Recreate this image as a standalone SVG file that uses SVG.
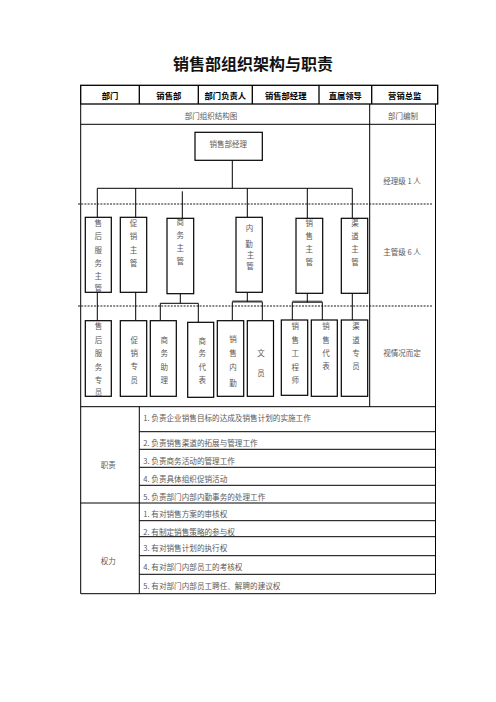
<svg xmlns="http://www.w3.org/2000/svg" width="496" height="702" viewBox="0 0 496 702">
<style>
.bg{fill:#fff}
.ln{stroke:#000;stroke-width:1;fill:none}
.hd{stroke:#000;stroke-width:1.3;fill:none}
.bx{stroke:#000;stroke-width:1.2;fill:#fff}
.dash{stroke:#000;stroke-width:0.9;stroke-dasharray:2,1.2;fill:none}
.gr{stroke:#888;stroke-width:1.5;fill:none}
.title{font-family:"Noto Sans CJK SC","Noto Sans",sans-serif;font-size:16px;font-weight:bold;fill:#111;text-anchor:middle;dominant-baseline:central}
.h{font-family:"Noto Sans CJK SC","Noto Sans",sans-serif;font-size:8.3px;font-weight:bold;fill:#000;text-anchor:middle;dominant-baseline:central}
.t{font-family:"Noto Sans CJK SC","Noto Sans",sans-serif;font-size:7.5px;fill:#5a5a5a;text-anchor:middle;dominant-baseline:central}
.l{font-family:"Noto Sans CJK SC","Noto Sans",sans-serif;font-size:7.6px;fill:#5a5a5a;text-anchor:start;dominant-baseline:central}
</style>
<rect class="bg" x="0" y="0" width="496" height="702"/>
<text class="title" x="253" y="63">销售部组织架构与职责</text>

<g id="table">
<rect class="hd" x="80.7" y="85.3" width="357" height="18.7"/>
<path class="hd" d="M139.3 85.3V104M198.3 85.3V104M252.3 85.3V104M319 85.3V104M371.7 85.3V104"/>
<text class="h" x="110" y="95">部门</text>
<text class="h" x="168.8" y="95">销售部</text>
<text class="h" x="225.3" y="95">部门负责人</text>
<text class="h" x="285.7" y="95">销售部经理</text>
<text class="h" x="345.3" y="95">直属领导</text>
<text class="h" x="404.7" y="95">营销总监</text>
<path class="ln" d="M80.7 104V593.7M435.5 104V593.7M80.7 124.3H435.5M369.7 104V406.7M80.7 406.7H435.5M139.3 406.7V593.7M139.3 431.7H435.5M139.3 449.3H435.5M139.3 467.3H435.5M139.3 485.3H435.5M80.7 503H435.5M139.3 520.7H435.5M139.3 536.7H435.5M139.3 555.7H435.5M139.3 574.3H435.5M80.7 593.7H435.5"/>
<text class="t" x="211" y="115">部门组织结构图</text>
<text class="t" x="403" y="115">部门编制</text>
<text class="t" x="402" y="180.7">经理级 1 人</text>
<text class="t" x="402" y="251.7">主管级 6 人</text>
<text class="t" x="402" y="352.3">视情况而定</text>
<path class="dash" d="M78 204H433M78 306H433"/>
<text class="t" x="108.3" y="464.3">职责</text>
<text class="l" x="143.3" y="417.3">1. 负责企业销售目标的达成及销售计划的实施工作</text>
<text class="l" x="143.3" y="442.3">2. 负责销售渠道的拓展与管理工作</text>
<text class="l" x="143.3" y="460.3">3. 负责商务活动的管理工作</text>
<text class="l" x="143.3" y="478.7">4. 负责具体组织促销活动</text>
<text class="l" x="143.3" y="496.7">5. 负责部门内部内勤事务的处理工作</text>
<text class="t" x="108.3" y="560.3">权力</text>
<text class="l" x="143.3" y="513.3">1. 有对销售方案的审核权</text>
<text class="l" x="143.3" y="531">2. 有制定销售策略的参与权</text>
<text class="l" x="143.3" y="547.3">3. 有对销售计划的执行权</text>
<text class="l" x="143.3" y="566.3">4. 有对部门内部员工的考核权</text>
<text class="l" x="143.3" y="585">5. 有对部门内部员工聘任、解聘的建议权</text>
</g>

<g id="connectors">
<path class="ln" d="M232.3 160.3V188.3M97.3 188.3H352.3M97.3 188.3V217.3M135.7 188.3V217.3M182.3 191.3V218.3M247.3 188.3V217.3M307.3 188.3V218.3M352.3 188.3V218.3"/>
<path class="ln" d="M97.3 292.3V320.7M135.7 292.3V320.7M180.3 293.7V303.3M160.3 303.3H198.3M160.3 303.3V320.7M198.3 303.3V322.3"/>
<path class="gr" d="M232.3 300.9H262.3M292.3 301.2H322.3"/>
<path class="ln" d="M247.3 292.3V301.7M232.3 301.9H262.3M232.3 301.9V320.7M262.3 301.9V320.7M307.3 293.3V302.2M292.3 302.2H322.3M292.3 302.2V320M322.3 302.2V320M352.3 293.3V320"/>
</g>

<g id="mgr">
<rect class="bx" x="195" y="132.3" width="67.3" height="28"/>
<text class="t" x="228.3" y="143.3">销售部经理</text>
</g>

<g id="sup1">
<rect class="bx" x="85.3" y="217.3" width="26" height="75"/>
<text class="t"><tspan x="98.3" y="221.7">售</tspan><tspan x="98.3" y="235">后</tspan><tspan x="98.3" y="248.7">服</tspan><tspan x="98.3" y="261.7">务</tspan><tspan x="98.3" y="274.7">主</tspan><tspan x="98.3" y="286.7">管</tspan></text>
</g>
<g id="sup2">
<rect class="bx" x="120.3" y="217.3" width="26.4" height="75"/>
<text class="t"><tspan x="133.5" y="221.7">促</tspan><tspan x="133.5" y="235">销</tspan><tspan x="133.5" y="248.7">主</tspan><tspan x="133.5" y="261.7">管</tspan></text>
</g>
<g id="sup3">
<rect class="bx" x="167" y="218.3" width="26.7" height="75.4"/>
<text class="t"><tspan x="180.3" y="220.7">商</tspan><tspan x="180.3" y="234">务</tspan><tspan x="180.3" y="247.3">主</tspan><tspan x="180.3" y="260">管</tspan></text>
</g>
<g id="sup4">
<rect class="bx" x="236" y="217.3" width="26.3" height="75"/>
<text class="t"><tspan x="249.5" y="226.7">内</tspan><tspan x="249" y="243">勤</tspan><tspan x="250.5" y="253.5">主</tspan><tspan x="250" y="264.5">管</tspan></text>
</g>
<g id="sup5">
<rect class="bx" x="296" y="218.3" width="26.7" height="75"/>
<text class="t"><tspan x="309.3" y="221.7">销</tspan><tspan x="309.3" y="235">售</tspan><tspan x="309.3" y="248.3">主</tspan><tspan x="309.3" y="261">管</tspan></text>
</g>
<g id="sup6">
<rect class="bx" x="341.3" y="218.3" width="26.4" height="75"/>
<text class="t"><tspan x="355" y="221.7">渠</tspan><tspan x="355" y="235">道</tspan><tspan x="355" y="248.3">主</tspan><tspan x="355" y="261">管</tspan></text>
</g>

<g id="staff1">
<rect class="bx" x="85.3" y="320.7" width="26" height="75.6"/>
<text class="t"><tspan x="98.6" y="325">售</tspan><tspan x="98.6" y="339">后</tspan><tspan x="98.6" y="352.3">服</tspan><tspan x="98.6" y="365.7">务</tspan><tspan x="98.6" y="379">专</tspan><tspan x="98.6" y="391">员</tspan></text>
</g>
<g id="staff2">
<rect class="bx" x="120.3" y="320.7" width="26.4" height="75.6"/>
<text class="t"><tspan x="134.3" y="339.3">促</tspan><tspan x="134.3" y="352.3">销</tspan><tspan x="134.3" y="365.3">专</tspan><tspan x="134.3" y="378.7">员</tspan></text>
</g>
<g id="staff3">
<rect class="bx" x="150.3" y="320.7" width="26" height="75.6"/>
<text class="t"><tspan x="164.3" y="339.3">商</tspan><tspan x="164.3" y="352">务</tspan><tspan x="164.3" y="365.7">助</tspan><tspan x="164.3" y="378.7">理</tspan></text>
</g>
<g id="staff4">
<rect class="bx" x="187.7" y="322.3" width="26" height="75"/>
<text class="t"><tspan x="202.3" y="339.7">商</tspan><tspan x="202.3" y="352.3">务</tspan><tspan x="202.3" y="365.7">代</tspan><tspan x="202.3" y="379.3">表</tspan></text>
</g>
<g id="staff5">
<rect class="bx" x="217.3" y="320.7" width="26.4" height="75.6"/>
<text class="t"><tspan x="233" y="338">销</tspan><tspan x="233" y="352.3">售</tspan><tspan x="233" y="365.7">内</tspan><tspan x="233" y="382.3">勤</tspan></text>
</g>
<g id="staff6">
<rect class="bx" x="247.3" y="320.7" width="26.2" height="75.6"/>
<text class="t"><tspan x="261" y="352.3">文</tspan><tspan x="261" y="372">员</tspan></text>
</g>
<g id="staff7">
<rect class="bx" x="281.3" y="320" width="26.4" height="75.3"/>
<text class="t"><tspan x="295.3" y="325">销</tspan><tspan x="295.3" y="339.3">售</tspan><tspan x="295.3" y="352.3">工</tspan><tspan x="295.3" y="365.7">程</tspan><tspan x="295.3" y="378.7">师</tspan></text>
</g>
<g id="staff8">
<rect class="bx" x="311.3" y="320" width="26" height="76.3"/>
<text class="t"><tspan x="326" y="325">销</tspan><tspan x="326" y="339.3">售</tspan><tspan x="326" y="352.3">代</tspan><tspan x="326" y="365.3">表</tspan></text>
</g>
<g id="staff9">
<rect class="bx" x="341.3" y="320" width="26.4" height="76.3"/>
<text class="t"><tspan x="356" y="325">渠</tspan><tspan x="356" y="339.3">道</tspan><tspan x="356" y="352.3">专</tspan><tspan x="356" y="365.3">员</tspan></text>
</g>
</svg>
